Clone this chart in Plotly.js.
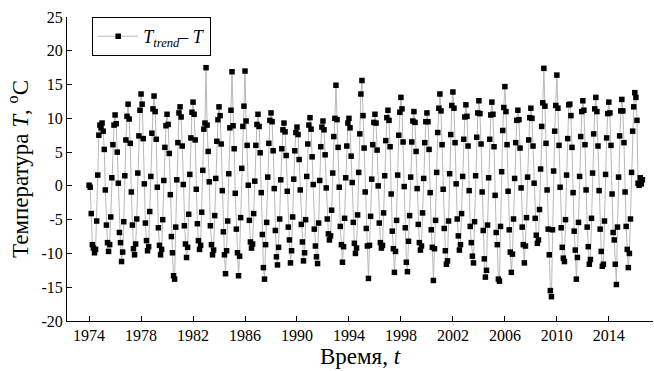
<!DOCTYPE html>
<html>
<head>
<meta charset="utf-8">
<script src="https://cdn.plot.ly/plotly-3.0.1.min.js"></script>
<style>html,body{margin:0;padding:0;background:#fff;}#chart{width:654px;height:371px;}</style>
</head>
<body>
<div id="chart"></div>
<script>
// Monthly values of T_trend - T (°C), January..December
const startYear = 1974;
const vals1974_1983 = [
  0.1, -0.2, -4.1, -8.7, -9.2, -9.9, -9.4, -5.2, 1.6, 7.5, 9.0, 8.6,
  9.3, 8.1, 5.4, -0.6, -5.8, -8.4, -9.7, -8.7, -4.6, 1.2, 6.1, 9.0,
  10.5, 9.2, 5.0, 0.4, -6.9, -8.4, -11.2, -9.8, -5.3, 1.5, 6.8, 10.3,
  12.1, 9.9, 6.3, -0.9, -5.8, -9.3, -10.2, -8.6, -4.9, 1.9, 7.4, 11.2,
  13.6, 12.1, 7.0, 0.3, -5.5, -8.1, -9.6, -9.0, -3.8, 1.4, 7.8, 11.4,
  13.3, 11.0, 6.9, -0.2, -6.2, -8.8, -10.2, -9.4, -5.0, 0.8, 5.7, 8.9,
  10.6, 9.1, 4.8, -1.3, -7.5, -9.9, -13.3, -13.8, -6.1, 0.9, 6.4, 10.8,
  11.7, 10.2, 5.9, 0.2, -5.9, -8.6, -10.6, -9.1, -4.2, 1.7, 7.1, 10.9,
  12.4, 10.6, 6.8, -0.5, -5.6, -8.1, -9.4, -8.8, -3.9, 2.3, 8.4, 9.3,
  17.5, 9.0, 5.1, 0.6, -5.9, -8.7, -10.2, -9.5, -4.4, 1.1, 6.6, 9.8
];
const vals1984_1993 = [
  11.7, 10.4, 6.2, -0.7, -6.8, -10.2, -13.0, -9.6, -5.2, 1.8, 8.6, 11.2,
  16.9, 8.9, 5.5, -1.1, -6.4, -9.9, -13.3, -10.4, -4.7, 2.6, 8.8, 11.8,
  17.0, 9.6, 6.0, 0.1, -5.1, -8.3, -9.2, -8.6, -4.1, 0.7, 6.0, 9.1,
  10.6, 8.8, 4.9, -1.0, -7.2, -12.1, -13.8, -8.7, -5.4, 1.3, 6.3, 9.7,
  10.8, 9.5, 5.2, -0.4, -6.6, -10.5, -11.7, -9.1, -4.9, 0.9, 5.5, 8.3,
  9.3, 8.0, 4.5, -0.8, -6.1, -8.0, -11.4, -9.6, -4.6, 1.0, 5.2, 7.9,
  8.7, 7.6, 3.9, -0.6, -5.7, -8.3, -11.1, -9.9, -5.0, 1.4, 6.2, 9.0,
  10.1, 8.4, 4.3, 0.2, -6.4, -8.9, -10.5, -11.5, -5.5, 0.8, 5.8, 8.7,
  9.6, 8.3, 4.6, -0.3, -4.9, -7.1, -8.0, -7.4, -3.6, 1.9, 7.3, 10.0,
  14.9, 9.8, 5.7, -0.2, -6.0, -8.7, -11.3, -9.0, -4.8, 1.2, 5.9, 9.3
];
const vals1994_2003 = [
  10.0, 8.6, 4.4, 0.5, -5.4, -8.5, -10.0, -9.2, -4.3, 2.0, 7.7, 13.6,
  15.6, 10.4, 5.6, -0.9, -6.3, -8.9, -13.7, -8.8, -4.5, 1.0, 6.1, 9.4,
  10.6, 9.3, 5.3, 0.0, -5.5, -8.4, -9.2, -8.8, -4.0, 1.5, 6.7, 10.1,
  11.2, 9.7, 5.8, -1.2, -6.7, -9.3, -12.8, -9.7, -5.1, 1.6, 7.5, 10.9,
  13.1, 11.4, 6.5, -0.1, -6.2, -11.3, -12.7, -8.2, -4.4, 1.3, 6.5, 9.6,
  11.0, 9.4, 5.1, -0.4, -5.7, -8.4, -9.5, -8.9, -4.0, 1.1, 6.4, 9.5,
  10.8, 9.5, 5.4, -1.0, -6.5, -9.1, -14.0, -9.3, -5.1, 2.0, 7.9, 11.5,
  13.6, 11.1, 6.1, -0.5, -6.3, -9.6, -11.6, -11.1, -5.2, 1.8, 7.6, 11.9,
  13.9, 11.5, 6.4, 0.3, -4.9, -7.4, -9.5, -8.7, -4.1, 1.4, 6.9, 10.2,
  12.0, 10.3, 5.9, -0.7, -6.0, -8.4, -10.4, -11.4, -5.3, 1.5, 7.2, 10.8
];
const vals2004_2016 = [
  12.6, 10.7, 6.2, -0.9, -6.6, -10.8, -13.5, -12.5, -5.8, 1.2, 6.9, 10.5,
  12.4, 10.6, 5.8, -1.4, -6.9, -8.7, -13.8, -14.1, -6.0, 2.1, 8.2, 11.6,
  14.7, 11.0, 6.1, -0.8, -6.5, -9.8, -12.8, -10.1, -4.9, 1.1, 6.4, 9.7,
  11.2, 9.8, 5.6, -0.3, -6.1, -8.7, -11.4, -8.9, -4.7, 1.3, 6.8, 10.1,
  11.5, 10.0, 5.9, 0.4, -4.8, -7.3, -8.5, -8.0, -3.5, 2.5, 8.8, 12.3,
  17.4, 11.8, 6.3, -0.6, -6.4, -10.2, -15.5, -16.4, -6.5, 2.2, 8.1, 11.9,
  16.4, 11.5, 6.0, -0.2, -6.2, -9.1, -10.7, -11.2, -5.0, 1.6, 7.0, 12.0,
  12.1, 10.4, 5.7, -1.0, -6.7, -9.5, -13.8, -10.6, -5.4, 1.4, 7.3, 11.0,
  12.6, 11.2, 6.1, -0.6, -6.1, -9.0, -11.6, -10.9, -4.8, 1.9, 7.7, 11.4,
  13.1, 11.0, 5.9, -0.7, -6.4, -9.7, -11.9, -11.6, -5.2, 1.7, 7.1, 10.7,
  12.4, 10.8, 6.0, -1.2, -6.9, -8.0, -11.6, -14.6, -6.1, 1.3, 7.4, 11.1,
  12.8, 11.1, 6.4, -0.9, -6.0, -9.4, -12.1, -10.0, -4.9, 2.0, 8.1, 11.7,
  13.8, 13.1, 9.7, 0.4, 0.1, 1.2, 0.3, 0.9
];
const xTickVals = [1974, 1978, 1982, 1986, 1990, 1994, 1998, 2002, 2006, 2010, 2014];
const yTickVals = [-20, -15, -10, -5, 0, 5, 10, 15, 20, 25];

const values = [].concat(vals1974_1983, vals1984_1993, vals1994_2003, vals2004_2016);
const times = values.map((v, i) => startYear + i / 12);

const font = {family: '"Liberation Serif", "Times New Roman", serif', color: '#000'};

const trace = {
  x: times, y: values, type: 'scatter', mode: 'lines+markers',
  name: '<i>T</i><sub><i>trend</i></sub><i>– T</i>',
  line: {color: '#b8b8b8', width: 1},
  marker: {symbol: 'square', size: 5.5, color: '#000'}
};

const layout = {
  width: 654, height: 371,
  margin: {l: 67, r: 1, t: 17, b: 50},
  paper_bgcolor: '#fff', plot_bgcolor: '#fff',
  font: Object.assign({size: 16}, font),
  showlegend: true,
  legend: {x: 0.043, y: 1.0, xanchor: 'left', yanchor: 'top',
    bordercolor: '#000', borderwidth: 1, bgcolor: '#fff',
    font: Object.assign({size: 18}, font), itemwidth: 40},
  xaxis: {
    range: [1972.3, 2017.4], tickvals: xTickVals, ticktext: xTickVals.map(String),
    ticks: 'inside', ticklen: 5, tickcolor: '#000', showline: true, linecolor: '#000', linewidth: 1,
    showgrid: false, zeroline: false, tickfont: Object.assign({size: 16}, font),
    title: {text: 'Время, <i>t</i>', font: Object.assign({size: 23}, font), standoff: 2}
  },
  yaxis: {
    range: [-20, 25], tickvals: yTickVals, ticktext: yTickVals.map(String),
    ticks: 'inside', ticklen: 5, tickcolor: '#000', showline: true, linecolor: '#000', linewidth: 1,
    showgrid: false, zeroline: false, tickfont: Object.assign({size: 16}, font),
    title: {text: 'Температура <i>T</i>, <sup>o</sup>C', font: Object.assign({size: 23}, font), standoff: 6}
  }
};

Plotly.newPlot('chart', [trace], layout, {displayModeBar: false, staticPlot: true});
</script>
</body>
</html>
